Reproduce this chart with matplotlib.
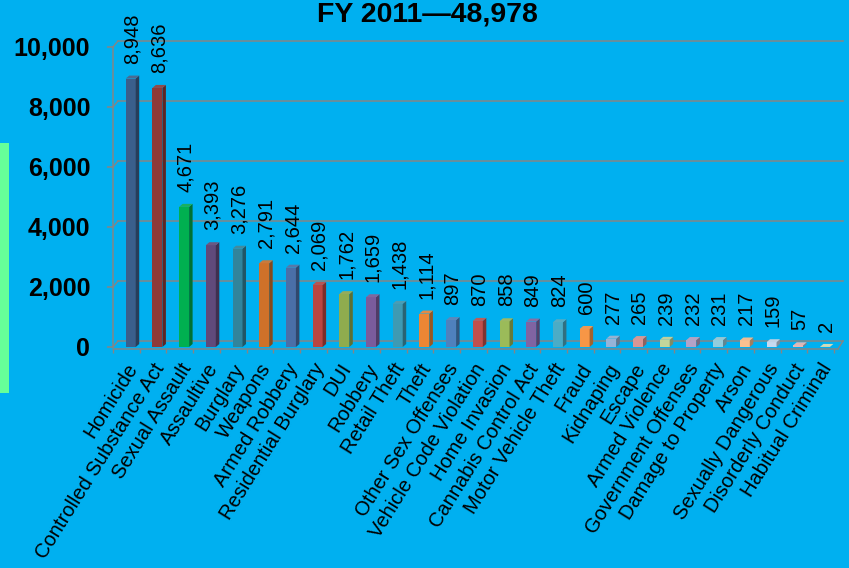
import numpy as np
import matplotlib.pyplot as plt
import matplotlib.colors as mcolors
import matplotlib.transforms as mtransforms
from matplotlib.patches import Polygon, Rectangle

plt.rcParams['font.family'] = ['Liberation Sans', 'DejaVu Sans']

title = 'FY 2011\u201448,978'
categories = ['Homicide', 'Controlled Substance Act', 'Sexual Assault', 'Assaultive',
              'Burglary', 'Weapons', 'Armed Robbery', 'Residential Burglary', 'DUI',
              'Robbery', 'Retail Theft', 'Theft', 'Other Sex Offenses',
              'Vehicle Code Violation', 'Home Invasion', 'Cannabis Control Act',
              'Motor Vehicle Theft', 'Fraud', 'Kidnaping', 'Escape', 'Armed Violence',
              'Government Offenses', 'Damage to Property', 'Arson', 'Sexually Dangerous',
              'Disorderly Conduct', 'Habitual Criminal']
counts = [8948, 8636, 4671, 3393, 3276, 2791, 2644, 2069, 1762, 1659, 1438, 1114, 897,
          870, 858, 849, 824, 600, 277, 265, 239, 232, 231, 217, 159, 57, 2]
bar_colors = ['#3A5F8C', '#8E3A38', '#00B050', '#604A7B', '#31849B', '#CF7129',
              '#4A6FA8', '#BA4541', '#8FAC4E', '#7A5C9C', '#3E9AB3', '#EC8634',
              '#4F81BD', '#C0504D', '#9BBB59', '#8064A2', '#4BACC6', '#F79646',
              '#95B3D7', '#D99694', '#C3D69B', '#B3A2C7', '#93CDDD', '#FAC090',
              '#C6D9F0', '#E6B9B8', '#D7E4BD']
yticks = [0, 2000, 4000, 6000, 8000, 10000]

bg = '#00B0F0'
grid_c = '#858585'

W, H = 849, 568
fig = plt.figure(figsize=(W / 100, H / 100), dpi=100, facecolor=bg)
ax = fig.add_axes([113 / W, 221 / H, 725 / W, 300 / H])
ax.set_facecolor('none')

x = np.arange(len(categories))
x0, x1 = -0.663, 26.49
ax.set_xlim(x0, x1)
ax.set_ylim(0, 10000)

# pixel -> data conversions for the fake 3D depth
px_x = (x1 - x0) / 725
px_y = 10000 / 300
BX, BY = 5 * px_x, 6 * px_y        # back wall offset
DX, DY = 3.5 * px_x, 3 * px_y      # bar depth
w = 10 * px_x

# back wall gridlines and the short diagonals of the side wall
for t in yticks:
    ax.plot([x0 + BX, x1 + BX], [t + BY, t + BY], color=grid_c, lw=1.1,
            clip_on=False, zorder=1)
    ax.plot([x0, x0 + BX], [t, t + BY], color=grid_c, lw=1.0, clip_on=False, zorder=1)
ax.plot([x1, x1 + BX], [-2 * px_y, BY], color=grid_c, lw=1.0, clip_on=False, zorder=1)

# bars: front face, side face, top face
for xi, v, c in zip(x, counts, bar_colors):
    rgb = np.array(mcolors.to_rgb(c))
    side = rgb * 0.65
    top = rgb * 0.85 + 0.1
    ax.bar(xi, v, width=w, color=c, zorder=3)
    ax.add_patch(Polygon([(xi + w / 2, 0), (xi + w / 2 + DX, DY),
                          (xi + w / 2 + DX, v + DY), (xi + w / 2, v)],
                         closed=True, facecolor=side, edgecolor='none', zorder=3))
    ax.add_patch(Polygon([(xi - w / 2, v), (xi + w / 2, v),
                          (xi + w / 2 + DX, v + DY), (xi - w / 2 + DX, v + DY)],
                         closed=True, facecolor=np.clip(top, 0, 1), edgecolor='none',
                         zorder=3))
    ax.annotate(f'{v:,}', xy=(xi + DX / 2, v + DY), xytext=(0, 12),
                textcoords='offset pixels', rotation=90, ha='center', va='bottom',
                fontsize=14.5, color='black', annotation_clip=False)

for s in ['top', 'right']:
    ax.spines[s].set_visible(False)
ax.spines['left'].set_color(grid_c)
ax.spines['left'].set_linewidth(1.1)
ax.spines['bottom'].set_color(grid_c)
ax.spines['bottom'].set_linewidth(1.1)
ax.spines['bottom'].set_position(('outward', 1.44))

ax.set_yticks(yticks)
ax.set_yticklabels([f'{t:,}' for t in yticks], fontsize=18, fontweight='bold')
ax.tick_params(axis='y', length=4.3, width=1.1, color=grid_c, pad=12)

ax.set_xticks(x)
ax.set_xticklabels(categories, rotation=58, ha='right', va='top',
                   rotation_mode='anchor', fontsize=14.5)
ax.tick_params(axis='x', which='major', length=0, pad=8)
ax.set_xticks(np.arange(len(categories) + 1) + x0, minor=True)
ax.tick_params(axis='x', which='minor', length=3, width=1.0, color=grid_c)
shift = mtransforms.ScaledTranslation(-5 / 100, 0, fig.dpi_scale_trans)
for lab in ax.get_xticklabels():
    lab.set_transform(lab.get_transform() + shift)

fig.text(427 / W, 1 - 1 / H, title, ha='center', va='top', fontsize=20.5,
         fontweight='bold')

# green strip at the left edge
fig.patches.append(Rectangle((0, (H - 393) / H), 8.5 / W, 250 / H,
                             transform=fig.transFigure, facecolor='#66FF99',
                             edgecolor='none'))

fig.savefig('out.png', dpi=100, facecolor=bg)
